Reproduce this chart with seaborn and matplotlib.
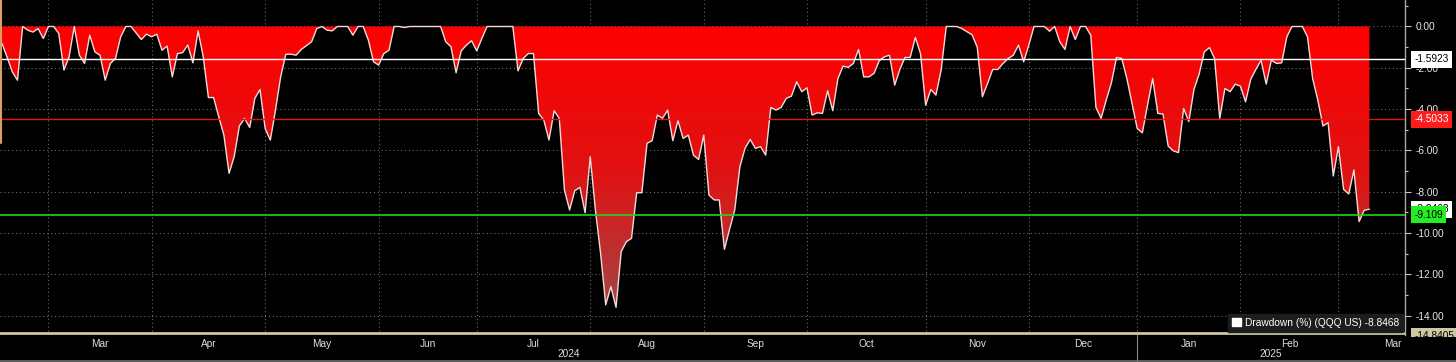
import numpy as np
import pandas as pd
import matplotlib
matplotlib.use("Agg")
import matplotlib.pyplot as plt
import matplotlib.transforms as mtransforms
from matplotlib.colors import LinearSegmentedColormap
from matplotlib.patches import Patch, Rectangle
from matplotlib.lines import Line2D
from matplotlib.path import Path
import seaborn as sns

# ---------------- data (trading-day index, drawdown %) ----------------
day = [0, 1, 2, 3, 4, 5, 6, 7, 8, 9, 10, 11, 12, 13, 14, 15, 16, 17, 18, 19,
       20, 21, 22, 23, 24, 25, 27, 28, 29, 30, 31, 32, 33, 34, 35, 36, 37, 38, 39, 40,
       41, 42, 43, 44, 45, 46, 47, 48, 49, 50, 51, 52, 53, 54, 55, 56, 57, 58, 60, 61,
       62, 63, 64, 65, 67, 68, 69, 70, 71, 72, 73, 74, 75, 76, 77, 78, 79, 85, 86, 87,
       88, 89, 90, 91, 92, 93, 94, 99, 100, 101, 102, 103, 104, 105, 106, 107, 108, 109, 110, 111,
       112, 113, 114, 115, 116, 117, 118, 119, 120, 121, 122, 123, 124, 125, 126, 127, 128, 129, 130, 131,
       132, 133, 134, 135, 136, 137, 138, 139, 140, 141, 142, 143, 144, 145, 146, 147, 148, 149, 150, 151,
       152, 153, 154, 155, 156, 157, 158, 159, 160, 161, 162, 163, 164, 165, 166, 167, 168, 169, 170, 171,
       172, 173, 174, 175, 176, 177, 178, 179, 180, 181, 182, 183, 185, 186, 187, 188, 189, 190, 191, 192,
       193, 194, 195, 196, 197, 198, 199, 200, 202, 203, 204, 205, 206, 207, 208, 209, 210, 211, 212, 213,
       214, 215, 216, 217, 218, 219, 220, 221, 222, 223, 224, 225, 226, 227, 228, 229, 230, 231, 232, 233,
       234, 235, 236, 237, 238, 239, 240, 241, 242, 243, 244, 245, 246, 247, 248, 249, 250, 252, 253, 254,
       255, 256, 257, 258, 259, 260, 261, 262, 263, 264, 265]
drawdown = [-0.82, -1.5, -2.2, -2.6, 0.0, -0.18, -0.27, -0.1, -0.58, 0.0, 0.0, -0.34, -2.11, -1.47, 0.0, -1.39, -1.79, -0.42, -1.23, -1.39,
            -2.6, -1.79, -1.55, -0.5, 0.0, 0.0, -0.63, -0.37, -0.5, -0.37, -1.15, -0.95, -2.44, -1.31, -1.27, -0.9, -1.76, -0.21, -1.47, -3.44,
            -3.44, -4.37, -5.26, -7.11, -6.3, -4.82, -4.45, -4.89, -3.48, -3.05, -4.94, -5.5, -4.05, -2.44, -1.35, -1.34, -1.39, -1.11, -0.74, -0.1,
            0.0, -0.18, -0.21, 0.0, 0.0, -0.42, 0.0, 0.0, -0.66, -1.71, -1.87, -1.31, -1.15, 0.0, 0.0, -0.05, 0.0, 0.0, -0.74, -0.98,
            -2.24, -1.18, -0.9, -0.69, -1.18, -0.58, 0.0, 0.0, -2.15, -1.55, -1.31, -1.31, -4.21, -4.53, -5.5, -4.08, -4.45, -7.92, -8.89, -7.95,
            -7.79, -9.02, -6.31, -8.89, -10.98, -13.48, -12.6, -13.6, -10.9, -10.42, -10.26, -8.05, -8.05, -5.66, -5.53, -4.29, -4.45, -4.05, -5.53, -4.56,
            -5.42, -5.26, -6.23, -6.44, -5.26, -8.16, -8.4, -8.4, -10.79, -9.82, -8.89, -6.79, -5.9, -5.47, -5.9, -5.82, -6.23, -3.92, -4.05, -3.92,
            -3.48, -3.37, -2.68, -3.16, -2.97, -4.29, -4.18, -4.21, -3.11, -4.08, -2.52, -1.92, -1.98, -1.79, -1.11, -2.44, -2.44, -2.27, -1.66, -1.47,
            -1.39, -2.84, -2.08, -1.5, -1.5, -0.53, -1.31, -3.81, -3.05, -3.32, -2.11, 0.0, 0.0, -0.1, -0.25, -0.4, -1.0, -3.4, -2.76, -2.08,
            -2.08, -1.79, -1.55, -1.39, -0.9, -1.71, -0.9, 0.0, 0.0, -0.23, 0.0, -0.74, -1.11, 0.0, -0.63, 0.0, 0.0, -0.42, -3.92, -4.45,
            -3.56, -2.73, -1.5, -1.55, -2.52, -3.73, -4.94, -5.15, -3.81, -2.52, -4.21, -4.24, -5.79, -6.02, -6.11, -3.97, -4.61, -3.05, -2.31, -1.23,
            -1.02, -1.55, -4.45, -3.0, -3.16, -2.79, -2.89, -3.65, -2.56, -2.08, -1.63, -2.79, -1.63, -1.79, -1.76, -0.5, 0.0, 0.0, -0.5, -2.52,
            -3.56, -4.82, -4.66, -7.24, -5.82, -7.89, -8.11, -6.95, -9.45, -8.9, -8.8468]

month_names = ["Mar", "Apr", "May", "Jun", "Jul", "Aug", "Sep", "Oct", "Nov", "Dec", "Jan", "Feb", "Mar"]
month_start = [9, 29, 51, 73, 92, 114, 136, 156, 179, 199, 220, 240, 259]
last_month_end = 280
year_names = ["2024", "2025"]
year_break = 220

ref_white = -1.5923
ref_red = -4.5033
ref_green = -9.109
last_value = -8.8468
low_value = -14.8405
y_ticks = [0, -2, -4, -6, -8, -10, -12, -14]
legend_label = "Drawdown (%) (QQQ US) -8.8468"

# ---------------- style ----------------
sns.set_theme(style="dark", rc={"axes.facecolor": "black", "figure.facecolor": "black",
                                "savefig.facecolor": "black"})
plt.rcParams['font.family'] = ['Liberation Sans', 'DejaVu Sans']
FS = 7.3

W, H = 1456, 362
fig = plt.figure(figsize=(W / 100, H / 100), dpi=100, facecolor='black')
ax = fig.add_axes([0, 27 / H, 1405 / W, 335 / H])
ax.set_facecolor('black')

xlim = (-0.39, 271.9)
ylim = (-14.94, 1.283)

df = pd.DataFrame({"day": day, "drawdown": drawdown})

# gradient fill between 0 and the curve
poly = ax.fill_between(df["day"], 0, df["drawdown"], color='none', lw=0)
clip = Path.make_compound_path(*poly.get_paths())
cmap = LinearSegmentedColormap.from_list("dd", ["#ff0000", "#e01212", "#a24848"])
grad = np.linspace(0, 1, 256).reshape(-1, 1)
im = ax.imshow(grad, extent=[xlim[0], xlim[1], -14.0, 0.0], aspect='auto', cmap=cmap,
               origin='upper', zorder=2, interpolation='bilinear')
im.set_clip_path(clip, transform=ax.transData)

sns.lineplot(data=df, x="day", y="drawdown", ax=ax, color="#f3dada", lw=1.0,
             zorder=4, legend=False)

# reference lines
ax.axhline(ref_white, color="white", lw=1.0, zorder=5)
ax.axhline(ref_red, color="#e21414", lw=1.0, zorder=5)
ax.axhline(ref_green, color="#1fd61f", lw=1.2, zorder=5)
ax.axhline(low_value, color="#cdc7a6", lw=2.0, zorder=6)

ax.set_xlim(*xlim)
ax.set_ylim(*ylim)

# grid / ticks
ax.set_axisbelow(True)
ax.set_xticks(month_start)
ax.set_xticklabels([""] * len(month_start))
ends = month_start[1:] + [last_month_end]
mids = [(s + e) / 2 for s, e in zip(month_start, ends)]
ax.set_xticks(mids, minor=True)
ax.set_xticklabels(month_names, minor=True)
ax.set_yticks(y_ticks)
ax.set_yticklabels([f"{v:.2f}" for v in y_ticks])
ax.set_yticks(np.arange(-13, 2, 2), minor=True)
ax.yaxis.tick_right()
ax.grid(which='major', color="#6a6a6a", lw=0.8, ls=(0, (1, 2.5)))
ax.grid(which='minor', visible=False)
ax.tick_params(axis='x', which='major', length=2.5, width=0.8, color="#909090", direction='out')
ax.tick_params(axis='x', which='minor', length=0, pad=3, labelsize=FS, labelcolor="#dedede")
ax.tick_params(axis='y', which='major', length=4, width=0.8, color="#c8c8c8", direction='out',
               pad=3.5, labelsize=FS, labelcolor="#e8e8e8", right=True, left=False)
ax.tick_params(axis='y', which='minor', length=2.5, width=0.8, color="#c8c8c8", direction='out',
               right=True, left=False)
ax.set_xlabel("")
ax.set_ylabel("")
for s in ["left", "top", "bottom"]:
    ax.spines[s].set_visible(False)
ax.spines["right"].set_color("#a8a8a8")
ax.spines["right"].set_linewidth(1.0)

# year labels and separator
bt = mtransforms.blended_transform_factory(ax.transData, ax.transAxes)
ax.text((xlim[0] + year_break) / 2, -0.058, year_names[0], transform=bt, ha='center', va='center',
        fontsize=FS, color="#dedede")
ax.text((year_break + xlim[1]) / 2, -0.058, year_names[1], transform=bt, ha='center', va='center',
        fontsize=FS, color="#dedede")
ax.add_line(Line2D([year_break, year_break], [0, -0.09], transform=bt, color="#8a8a8a",
                   lw=0.8, clip_on=False))

# value tags on the right
tt = mtransforms.blended_transform_factory(ax.transAxes, ax.transData)


def tag(y, text, fc, tc, z, anchor_y=None):
    ax.text(1.0065, y if anchor_y is None else anchor_y, text, transform=tt, ha='left',
            va='center', fontsize=FS, color=tc,
            bbox=dict(boxstyle='square,pad=0.33', fc=fc, ec='none'), clip_on=False, zorder=z)


# the low tag sits on the bottom edge and is partly hidden below the axis line
tag(low_value, f"{low_value:.4f}", "#cfc8a2", "black", 7, anchor_y=ylim[0] - 0.05)
tag(last_value, f"{last_value:.4f}", "white", "black", 7)
tag(ref_green, f"{ref_green:.3f}", "#22ee22", "black", 8)
tag(ref_white, f"{ref_white:.4f}", "white", "black", 8)
tag(ref_red, f"{ref_red:.4f}", "#ff1c1c", "white", 8)

# legend
handle = Patch(facecolor="white", edgecolor="white")
leg = ax.legend([handle], [legend_label], loc='lower right', bbox_to_anchor=(0.9986, 0.009),
                borderaxespad=0, frameon=True, fancybox=False, facecolor="#1d1d1d",
                edgecolor="#1d1d1d", framealpha=1, fontsize=FS, labelcolor="white",
                handlelength=0.85, handleheight=0.85, handletextpad=0.4, borderpad=0.4)
leg.set_zorder(9)

# cover below the bottom axis line on the right, border decorations
fig.add_artist(Rectangle((1405.5 / W, 0), 51 / W, 25 / H, transform=fig.transFigure,
                         facecolor="black", edgecolor="none", zorder=10))
fig.add_artist(Line2D([0, 1], [0.7 / H, 0.7 / H], transform=fig.transFigure, color="#707070",
                      lw=1.2, zorder=11))
fig.add_artist(Line2D([0.6 / W, 0.6 / W], [1, 1 - 143 / H], transform=fig.transFigure,
                      color="#d8a060", lw=1.5))

fig.savefig("out.png", dpi=100, facecolor="black")
